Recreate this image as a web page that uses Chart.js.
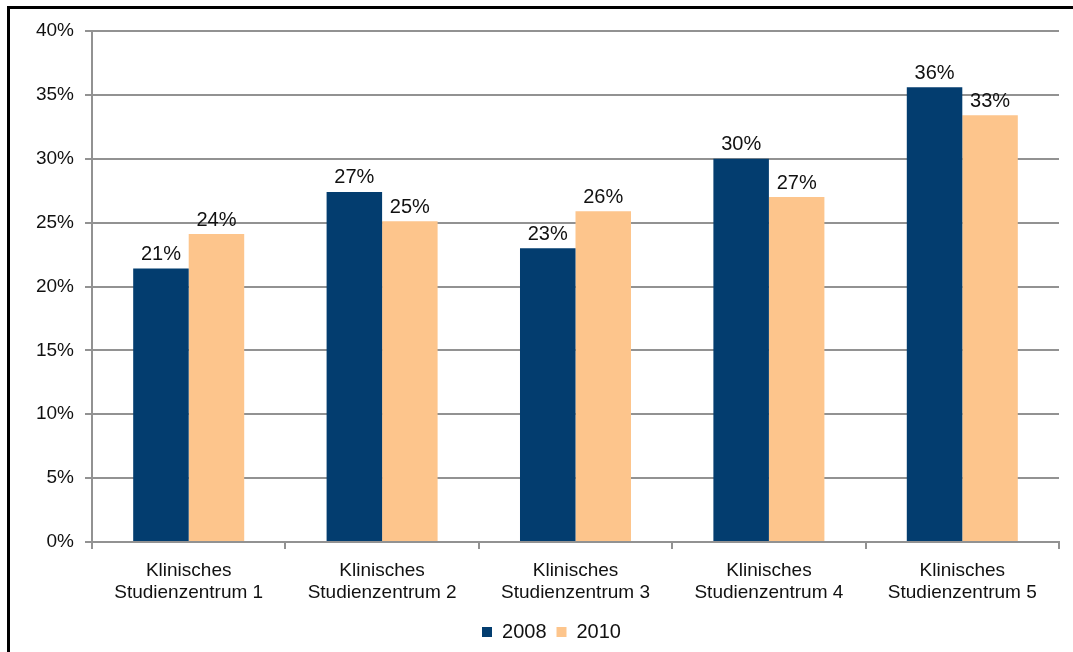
<!DOCTYPE html>
<html>
<head>
<meta charset="utf-8">
<script src="https://cdn.jsdelivr.net/npm/chart.js@4/dist/chart.umd.min.js"></script>
<style>
    html, body { margin: 0; padding: 0; background: #fff; overflow: hidden; }
    #frame {
        position: absolute; left: 7px; top: 6px; width: 1200px; height: 800px;
        border-top: 3px solid #000; border-left: 3px solid #000;
    }
    #wrap { position: absolute; left: 0; top: 0; width: 1073px; height: 652px; }
</style>
</head>
<body>
<div id="frame"></div>
<div id="wrap"><canvas id="chart"></canvas></div>
<script>
const categories = [
    ['Klinisches', 'Studienzentrum 1'],
    ['Klinisches', 'Studienzentrum 2'],
    ['Klinisches', 'Studienzentrum 3'],
    ['Klinisches', 'Studienzentrum 4'],
    ['Klinisches', 'Studienzentrum 5']
];
const values2008 = [21.4, 27.4, 23.0, 30.0, 35.6];
const values2010 = [24.1, 25.1, 25.9, 27.0, 33.4];
const yTicks = [0, 5, 10, 15, 20, 25, 30, 35, 40];

const FONT = 'Liberation Sans, Arial, sans-serif';
const GRID = '#929292';

// draw the rounded % labels above each bar
const barLabels = {
    id: 'barLabels',
    afterDatasetsDraw(chart) {
        const ctx = chart.ctx;
        ctx.save();
        ctx.font = '20px ' + FONT;
        ctx.fillStyle = '#111';
        ctx.textAlign = 'center';
        ctx.textBaseline = 'bottom';
        chart.data.datasets.forEach((ds, i) => {
            chart.getDatasetMeta(i).data.forEach((bar, j) => {
                ctx.fillText(Math.round(ds.data[j]) + '%', bar.x, bar.y - 4);
            });
        });
        ctx.restore();
    }
};

// legend sits a little right of the canvas centre in the original
const legendShift = {
    id: 'legendShift',
    beforeDraw(chart) {
        if (chart.legend._shifted) return;
        chart.legend.left += 22;
        chart.legend.right += 22;
        chart.legend._shifted = true;
    }
};

new Chart(document.getElementById('chart'), {
    type: 'bar',
    data: {
        labels: categories,
        datasets: [
            { label: '2008', data: values2008, backgroundColor: '#033D6F' },
            { label: '2010', data: values2010, backgroundColor: '#FDC58C' }
        ]
    },
    options: {
        responsive: true,
        maintainAspectRatio: false,
        animation: false,
        layout: { padding: { left: 0, right: 14, top: 31, bottom: 0 } },
        datasets: { bar: { categoryPercentage: 0.574, barPercentage: 1 } },
        plugins: {
            tooltip: { enabled: false },
            legend: {
                position: 'bottom',
                labels: {
                    boxWidth: 10, boxHeight: 10, padding: 10,
                    color: '#111',
                    font: { family: FONT, size: 20, lineHeight: 1 }
                }
            }
        },
        scales: {
            x: {
                afterFit: s => { s.height = 70; },
                grid: { drawOnChartArea: false, drawTicks: true, tickLength: 7, color: GRID, lineWidth: 2, offset: true },
                border: { color: GRID, width: 2 },
                ticks: { color: '#111', padding: 11, maxRotation: 0, font: { family: FONT, size: 19, lineHeight: 1.16 } }
            },
            y: {
                min: 0, max: 40,
                afterFit: s => { s.width = 92; },
                afterBuildTicks: s => { s.ticks = yTicks.map(v => ({ value: v })); },
                grid: { color: GRID, lineWidth: 2, tickLength: 7 },
                border: { color: GRID, width: 2 },
                ticks: { color: '#111', padding: 11, callback: v => v + '%', font: { family: FONT, size: 19 } }
            }
        }
    },
    plugins: [barLabels, legendShift]
});
</script>
</body>
</html>
